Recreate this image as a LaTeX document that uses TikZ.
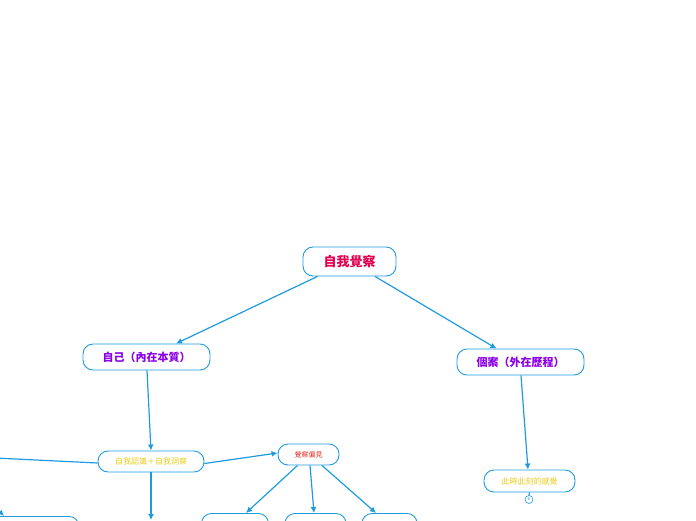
\documentclass[tikz,border=0pt]{standalone}
\usepackage{fontspec}
\setmainfont{Noto Sans CJK TC}
\usetikzlibrary{arrows.meta}
\definecolor{edge}{HTML}{1E9BE0}
\definecolor{rootc}{HTML}{E3004F}
\definecolor{purp}{HTML}{8B00E8}
\definecolor{yel}{HTML}{E8CC1A}
\definecolor{redc}{HTML}{E8261A}
\tikzset{
  box/.style={draw=edge, line width=0.9pt, fill=white, rounded corners=10pt, inner sep=0pt, align=center},
  conn/.style={draw=edge, line width=1.2pt, -{Latex[length=6pt,width=6pt]}},
  plain/.style={draw=edge, line width=1.2pt},
}
\begin{document}
\begin{tikzpicture}[x=1pt,y=-1pt]
\useasboundingbox (0,0) rectangle (696,520);
\clip (0,0) rectangle (696,520);
\node[box, minimum width=93, minimum height=29, text=rootc, font=\fontsize{13}{13}\selectfont\bfseries] (root) at (349.5,261.5) {自我覺察};
\node[box, minimum width=127, minimum height=26, text=purp, font=\fontsize{11}{11}\selectfont\bfseries] (self) at (146.5,357) {自己（內在本質）};
\node[box, minimum width=127, minimum height=26, text=purp, font=\fontsize{11}{11}\selectfont\bfseries] (case) at (520.5,362) {個案（外在歷程）};
\node[box, minimum width=106, minimum height=21, text=yel, font=\fontsize{8}{8}\selectfont] (know) at (151,461.5) {自我認識＋自我洞察};
\node[box, minimum width=61, minimum height=21, text=redc, font=\fontsize{7}{7}\selectfont] (bias) at (308.5,454.5) {覺察偏見};
\node[box, minimum width=91, minimum height=22, text=yel, font=\fontsize{8}{8}\selectfont] (now) at (529.5,481) {此時此刻的感覺};
\node[draw=edge, line width=0.6pt, circle, minimum size=8, inner sep=0pt, text=edge, font=\fontsize{4}{4}\selectfont] (cnt) at (529,499.5) {6};
% clipped bottom nodes
\node[box, minimum width=100, minimum height=30, anchor=north] (b0) at (29,516) {};
\node[box, minimum width=67, minimum height=30, anchor=north] (b1) at (235,513) {};
\node[box, minimum width=61, minimum height=30, anchor=north] (b2) at (315.5,513) {};
\node[box, minimum width=55, minimum height=30, anchor=north] (b3) at (389.5,513) {};
\coordinate (offL) at (-5,458);
\coordinate (offD) at (151,520);
\coordinate (offLT) at (-12,500);
% connectors
\draw[conn] ([xshift=-32]root.south) -- ([xshift=29.5]self.north);
\draw[conn] ([xshift=25.5]root.south) -- ([xshift=-24]case.north);
\draw[conn] ([xshift=0.5]self.south) -- (know.north);
\draw[conn] ([xshift=0.5]case.south) -- ([xshift=-1.5]now.north);
\draw[plain] (now.south) -- (cnt.north);
\draw[plain] ([yshift=-1.5]know.west) -- (offL);
\draw[conn] (know.south) -- (offD);
\draw[conn] ([yshift=-2]know.east) -- ([yshift=1.5]bias.west);
\draw[conn] ([xshift=-11]bias.south) -- ([xshift=11]b1.north);
\draw[conn] ([xshift=1.5]bias.south) -- ([xshift=-1.5]b2.north);
\draw[conn] ([xshift=13.5]bias.south) -- ([xshift=-13.5]b3.north);
\draw[conn] (offLT) -- ([xshift=-25]b0.north);
\end{tikzpicture}
\end{document}
